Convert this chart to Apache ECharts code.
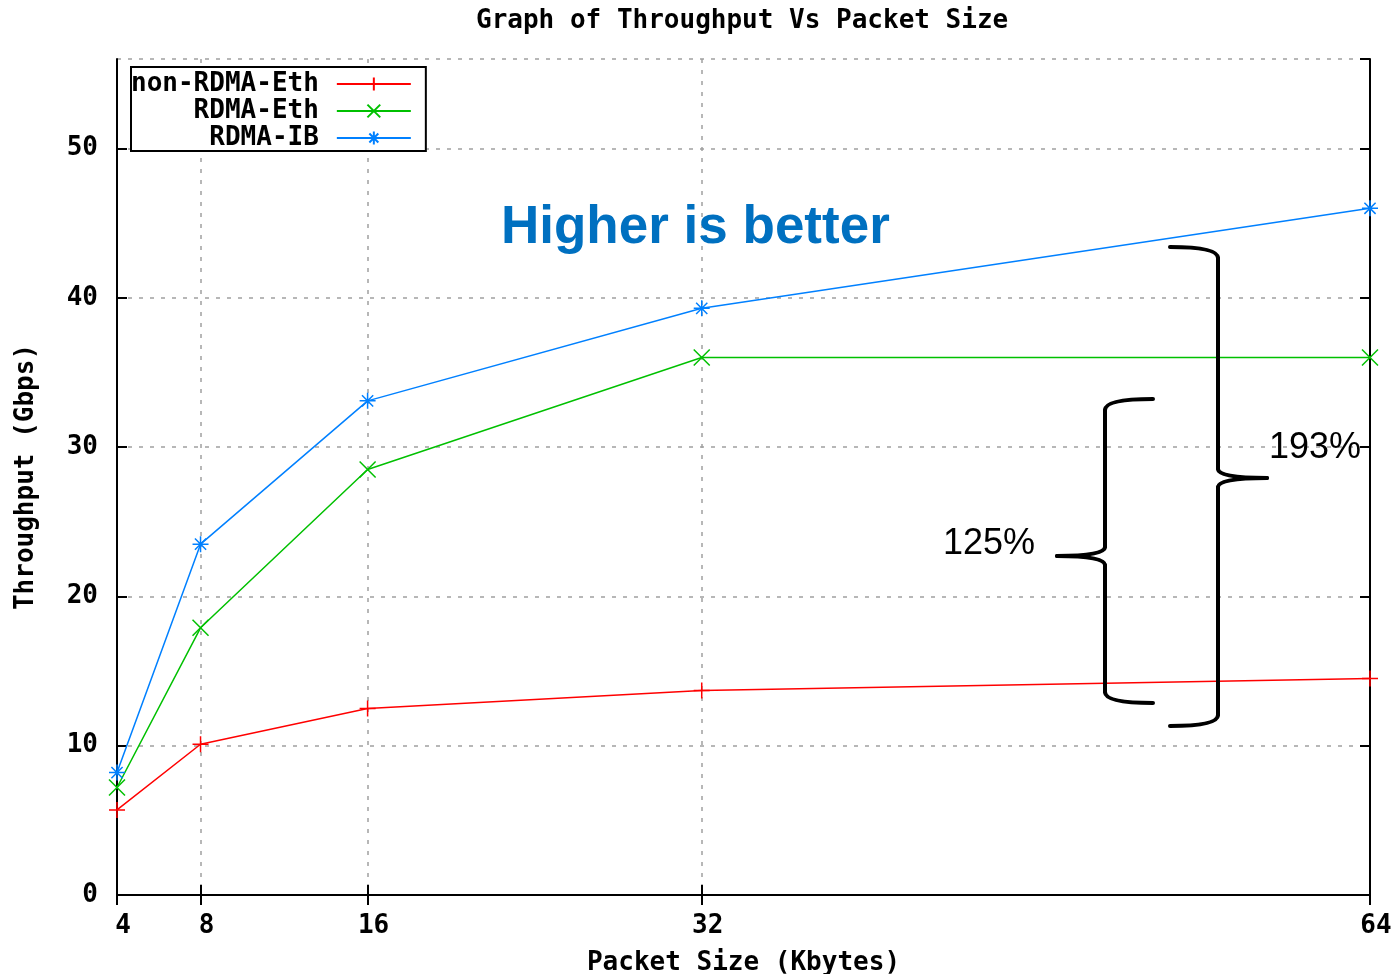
<!DOCTYPE html>
<html>
<head>
<meta charset="utf-8">
<script src="https://cdn.jsdelivr.net/npm/echarts@6/dist/echarts.min.js"></script>
<style>html,body{margin:0;padding:0;background:#fff}#c{width:1398px;height:974px}</style>
</head>
<body>
<div id="c"></div>
<script>
const packetSizes = [4, 8, 16, 32, 64];
const nonRdmaEth = [5.7, 10.1, 12.5, 13.7, 14.5];
const rdmaEth = [7.2, 17.9, 28.5, 36.0, 36.0];
const rdmaIB = [8.2, 23.5, 33.1, 39.3, 46.0];
const xTicks = [4, 8, 16, 32, 64];
const seriesNames = ['non-RDMA-Eth', 'RDMA-Eth', 'RDMA-IB'];
const colors = ['#ff0000', '#00c000', '#0080ff'];

const MONO = '"DejaVu Sans Mono", "Liberation Mono", monospace';
const plusPath = 'path://M0,5L10,5M5,0L5,10';
const crossPath = 'path://M0,0L10,10M10,0L0,10';
const starPath = 'path://M0,5L10,5M5,0L5,10M1.5,1.5L8.5,8.5M8.5,1.5L1.5,8.5';
const symbols = [plusPath, crossPath, starPath];
const allData = [nonRdmaEth, rdmaEth, rdmaIB];

function pairs(vals) { return packetSizes.map((x, i) => [x, vals[i]]); }

const gridDash = { type: [4, 7], color: '#a0a0a0', width: 1.5 };
const braceStyle = { fill: 'none', stroke: '#000', lineWidth: 4, lineCap: 'round' };

function brace(xv, xEnd, xTip, yTop, yMid, yBot) {
  const r = 11;
  const els = [];
  const q = (x1, y1, cx, cy, x2, y2) => els.push({ type: 'bezierCurve', z: 10, shape: { x1, y1, cpx1: cx, cpy1: cy, x2, y2 }, style: braceStyle });
  const l = (x1, y1, x2, y2) => els.push({ type: 'line', z: 10, shape: { x1, y1, x2, y2 }, style: braceStyle });
  q(xEnd, yTop, xv, yTop, xv, yTop + r);
  l(xv, yTop + r, xv, yMid - 9);
  q(xv, yMid - 9, xv, yMid, xTip, yMid);
  q(xTip, yMid, xv, yMid, xv, yMid + 9);
  l(xv, yMid + 9, xv, yBot - r);
  q(xv, yBot - r, xv, yBot, xEnd, yBot);
  return els;
}

const chart = echarts.init(document.getElementById('c'));
chart.setOption({
  animation: false,
  backgroundColor: '#fff',
  title: {
    text: 'Graph of Throughput Vs Packet Size',
    left: 471, top: 3,
    textStyle: { fontFamily: MONO, fontSize: 26, fontWeight: 'bold', color: '#000' }
  },
  grid: { left: 117, right: 28, top: 59, bottom: 79, outerBoundsMode: 'none', containLabel: false },
  legend: {
    orient: 'vertical',
    align: 'right',
    left: 131, top: 67,
    padding: [4, 14, 0, 0],
    itemWidth: 74, itemHeight: 16, itemGap: 1,
    backgroundColor: '#fff',
    borderColor: '#000', borderWidth: 2, borderRadius: 0,
    data: seriesNames,
    textStyle: { fontFamily: MONO, fontSize: 26, fontWeight: 'bold', color: '#000', padding: [0, 13, 0, 0] }
  },
  xAxis: [{
    type: 'value', min: 4, max: 64,
    name: 'Packet Size (Kbytes)', nameLocation: 'middle', nameGap: 55,
    nameTextStyle: { fontFamily: MONO, fontSize: 26, fontWeight: 'bold', color: '#000' },
    axisLine: { lineStyle: { color: '#000', width: 2 } },
    axisTick: { inside: true, length: 10, customValues: xTicks, lineStyle: { color: '#000', width: 2 } },
    axisLabel: { customValues: xTicks, margin: 18, padding: [0, 0, 0, 12], fontFamily: MONO, fontSize: 26, fontWeight: 'bold', color: '#000' },
    splitLine: { show: true, lineStyle: gridDash }
  }, {
    type: 'value', min: 4, max: 64, position: 'top',
    axisLine: { show: true, lineStyle: { color: '#000', width: 2 } },
    axisTick: { inside: true, length: 10, customValues: xTicks, lineStyle: { color: '#000', width: 2 } },
    axisLabel: { show: false },
    splitLine: { show: false }
  }],
  yAxis: [{
    type: 'value', min: 0, max: 56, interval: 10,
    name: 'Throughput (Gbps)', nameLocation: 'middle', nameGap: 78, nameRotate: 90,
    nameTextStyle: { fontFamily: MONO, fontSize: 26, fontWeight: 'bold', color: '#000' },
    axisLine: { show: true, lineStyle: { color: '#000', width: 2 } },
    axisTick: { show: true, inside: true, length: 10, lineStyle: { color: '#000', width: 2 } },
    axisLabel: { showMaxLabel: false, margin: 19, padding: [7, 0, 0, 0], fontFamily: MONO, fontSize: 26, fontWeight: 'bold', color: '#000' },
    splitLine: { show: true, lineStyle: gridDash }
  }, {
    type: 'value', min: 0, max: 56, interval: 10, position: 'right',
    axisLine: { show: true, lineStyle: { color: '#000', width: 2 } },
    axisTick: { show: true, inside: true, length: 10, lineStyle: { color: '#000', width: 2 } },
    axisLabel: { show: false },
    splitLine: { show: false }
  }],
  series: seriesNames.map((name, i) => ({
    name: name,
    type: 'line',
    data: pairs(allData[i]),
    symbol: symbols[i],
    symbolSize: 16,
    showAllSymbol: true,
    clip: false,
    z: 3,
    lineStyle: { color: colors[i], width: 1.5 },
    itemStyle: { color: 'rgba(0,0,0,0)', borderColor: colors[i], borderWidth: 1.5 }
  })),
  graphic: [
    { type: 'text', x: 501, y: 202, z: 10,
      style: { text: 'Higher is better', font: 'bold 53px "Liberation Sans", Arial, sans-serif', fill: '#0070c0' } },
    { type: 'text', x: 1269, y: 430, z: 10,
      style: { text: '193%', font: '36px "Liberation Sans", Arial, sans-serif', fill: '#000' } },
    { type: 'text', x: 943, y: 526, z: 10,
      style: { text: '125%', font: '36px "Liberation Sans", Arial, sans-serif', fill: '#000' } }
  ].concat(brace(1218, 1170, 1267, 247, 478, 726)).concat(brace(1105, 1153, 1057, 399, 556, 703))
});
</script>
</body>
</html>
